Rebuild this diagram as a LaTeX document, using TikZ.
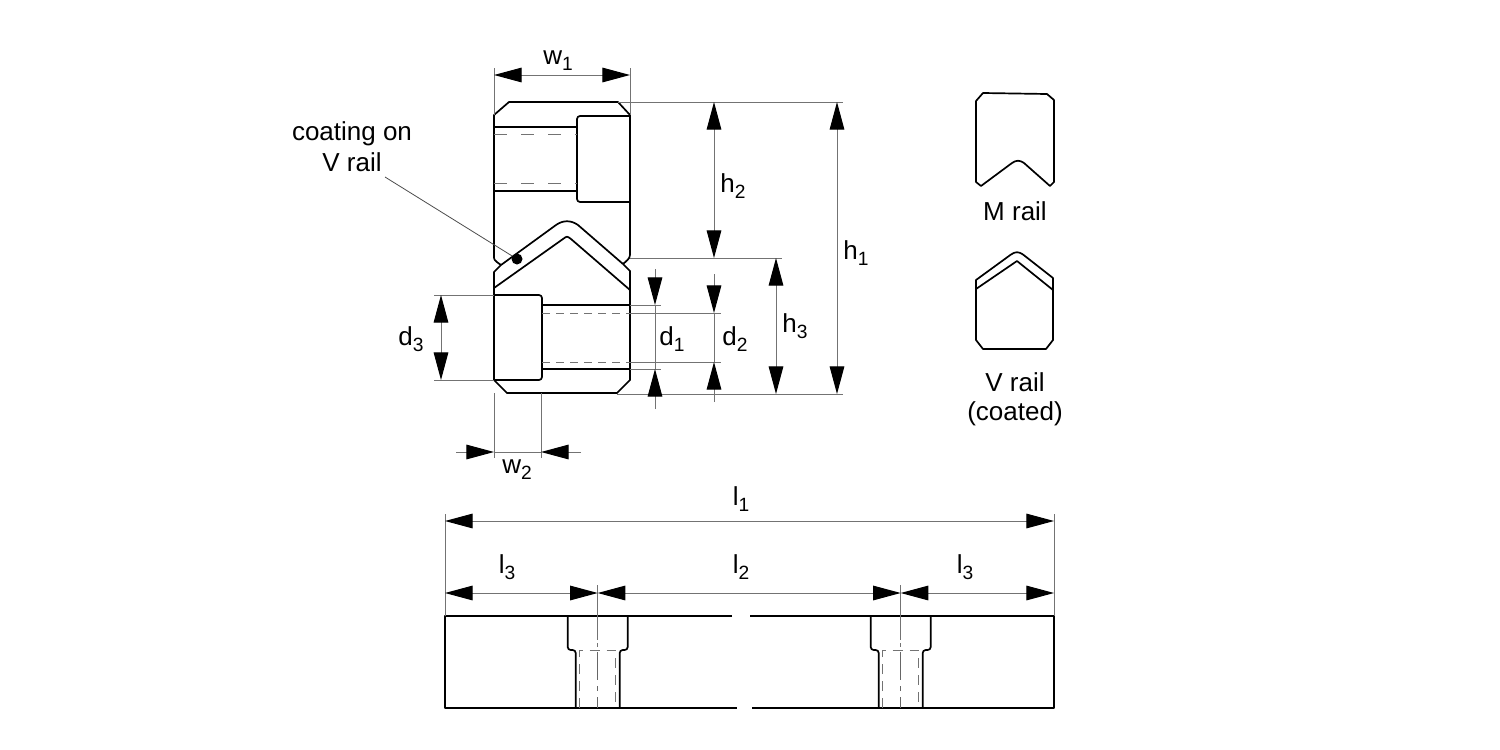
\documentclass[tikz,border=0pt]{standalone}
\usepackage{fontspec}
\setmainfont{Liberation Sans}
\usetikzlibrary{arrows.meta}
\newcommand\lbl[2]{#1\raisebox{-3.4pt}{\fontsize{9.6}{9.6}\selectfont #2}}
\tikzset{
  part/.style={line width=0.85pt, line join=round},
  hidden/.style={line width=0.45pt, black!55, dash pattern=on 6.5pt off 7pt},
  hiddenb/.style={line width=0.5pt, black!55, dash pattern=on 4pt off 3pt},
  hiddenc/.style={line width=0.45pt, black!55, dash pattern=on 5pt off 3.5pt},
  axisline/.style={line width=0.4pt, black!60, dash pattern=on 14pt off 3pt on 2.5pt off 3pt},
  dimline/.style={line width=0.5pt, black!55},
  both/.style={dimline, {Triangle[length=13.8pt, width=7.3pt, color=black]}-{Triangle[length=13.8pt, width=7.3pt, color=black]}},
  single/.style={dimline, -{Triangle[length=13.8pt, width=7.3pt, color=black]}},
  txt/.style={font=\fontsize{13}{13}\selectfont, inner sep=0pt, anchor=base},
}
\begin{document}
\begin{tikzpicture}[x=0.5pt, y=-0.5pt]
    \useasboundingbox (0,0) rectangle (1500,750);

    % upper rail
    \draw [part] (501,265) .. controls (494,260) .. (494,256) -- (494,115) -- (509,102) -- (618,102) -- (630,115)
      -- (630,252) .. controls (630,258) .. (623,264);
    \draw [part] (501,265) -- (556,225) .. controls (563,220) and (571,220) .. (578,225) -- (623,264);
    \draw [part, rounded corners=1.5pt] (630,116) -- (577,116) -- (577,202) -- (630,202);
    \draw [part] (494,127) -- (577,127);
    \draw [part] (494,191) -- (577,191);
    \draw [hidden] (494,134) -- (577,134);
    \draw [hidden] (494,183) -- (577,183);

    % lower rail
    \draw [part] (501,265) -- (494,272) -- (494,380) -- (507,393) -- (617,393) -- (630,380)
      -- (630,271) -- (623,264);
    \draw [part] (494,288) -- (563,239) .. controls (567,236) .. (571,239) -- (630,290);
    \draw [part, rounded corners=1.5pt] (494,295) -- (542,295) -- (542,380) -- (494,380);
    \draw [part] (542,305) -- (630,305);
    \draw [part] (542,369) -- (630,369);
    \draw [hiddenb] (542,313) -- (630,313);
    \draw [hiddenb] (542,362) -- (630,362);

    % coating leader
    \node [circle, fill=black, minimum size=5.5pt, inner sep=0pt] (coatdot) at (517,259) {};
    \coordinate (coatstart) at (385,177);
    \draw [line width=0.4pt, black!70] (coatstart) -- (coatdot);
    \node [txt] (coatlabel) at (352,140) {coating on};
    \node [txt] (coatlabelb) at (352,171) {V rail};

    % extension lines
    \draw [dimline] (494,68) -- (494,115);
    \draw [dimline] (630,68) -- (630,115);
    \draw [dimline] (618,102) -- (843,102);
    \draw [dimline] (630,258) -- (782,258);
    \draw [dimline] (617,394) -- (843,394);
    \draw [dimline] (630,305) -- (661,305);
    \draw [dimline] (630,369) -- (661,369);
    \draw [dimline] (630,313) -- (721,313);
    \draw [dimline] (630,362) -- (721,362);
    \draw [dimline] (434,295) -- (494,295);
    \draw [dimline] (434,380) -- (494,380);
    \draw [dimline] (494,393) -- (494,458);
    \draw [dimline] (541,393) -- (541,458);

    % dimensions
    \draw [both] (494,75) -- (630,75);
    \draw [both] (714,102) -- (714,258);
    \draw [both] (837,102) -- (837,394);
    \draw [both] (776,258) -- (776,394);
    \draw [both] (441,295) -- (441,380);
    \draw [single] (655,269) -- (655,305);
    \draw [single] (655,409) -- (655,369);
    \draw [dimline] (655,305) -- (655,369);
    \draw [single] (714,274) -- (714,313);
    \draw [single] (714,402) -- (714,362);
    \draw [dimline] (714,313) -- (714,362);
    \draw [single] (456,452) -- (494,452);
    \draw [single] (581,452) -- (541,452);
    \draw [dimline] (494,452) -- (541,452);

    \node [txt] (wone) at (558,64) {\lbl{w}{1}};
    \node [txt] (htwo) at (733,192) {\lbl{h}{2}};
    \node [txt] (hone) at (856,259) {\lbl{h}{1}};
    \node [txt] (hthree) at (795,332) {\lbl{h}{3}};
    \node [txt] (done) at (672,345) {\lbl{d}{1}};
    \node [txt] (dtwo) at (735,345) {\lbl{d}{2}};
    \node [txt] (dthree) at (411,345) {\lbl{d}{3}};
    \node [txt] (wtwo) at (517,473) {\lbl{w}{2}};

    % M rail
    \draw [part] (976,101) -- (983,93) -- (1047,94) -- (1054,100) -- (1054,182) -- (1050,186)
      -- (1024,163) .. controls (1020,160) and (1016,160) .. (1012,163) -- (981,186) -- (976,182) -- cycle;
    \node [txt] (mrail) at (1015,220) {M rail};

    % V rail
    \draw [part] (976,340) -- (983,349) -- (1046,349) -- (1053,340) -- (1053,278) -- (1023,254.5)
      .. controls (1019,251.5) and (1015,251.5) .. (1011,254.5) -- (976,280) -- cycle;
    \draw [part] (976,289) -- (1017,261) -- (1053,290);
    \node [txt] (vrail) at (1015,391) {V rail};
    \node [txt] (vcoat) at (1015,420) {(coated)};

    % long rail
    \draw [part] (732,616) -- (445,616) -- (445,708) -- (737,708);
    \draw [part] (750,616) -- (1054,616) -- (1054,708) -- (752,708);
    \foreach \cx in {597.7,900.7} {
      \draw [part, rounded corners=1.5pt] (\cx-30,616) -- (\cx-30,650) -- (\cx-22,650) -- (\cx-22,708);
      \draw [part, rounded corners=1.5pt] (\cx+30,616) -- (\cx+30,650) -- (\cx+22,650) -- (\cx+22,708);
      \draw [hiddenc] (\cx-18,708) -- (\cx-18,650) -- (\cx+18,650) -- (\cx+18,708);
      \draw [dimline] (\cx,585) -- (\cx,640);
      \draw [dimline] (\cx,643) -- (\cx,647);
      \draw [axisline] (\cx,652) -- (\cx,708);
    }

    % length dimensions
    \draw [dimline] (445,514) -- (445,616);
    \draw [dimline] (1054,514) -- (1054,616);
    \draw [both] (445,521) -- (1054,521);
    \draw [both] (445,593) -- (597.7,593);
    \draw [both] (597.7,593) -- (900.7,593);
    \draw [both] (900.7,593) -- (1054,593);
    \node [txt] (lone) at (741,505) {\lbl{l}{1}};
    \node [txt] (lthreea) at (507,573) {\lbl{l}{3}};
    \node [txt] (ltwo) at (741,573) {\lbl{l}{2}};
    \node [txt] (lthreeb) at (965,573) {\lbl{l}{3}};
\end{tikzpicture}
\end{document}
